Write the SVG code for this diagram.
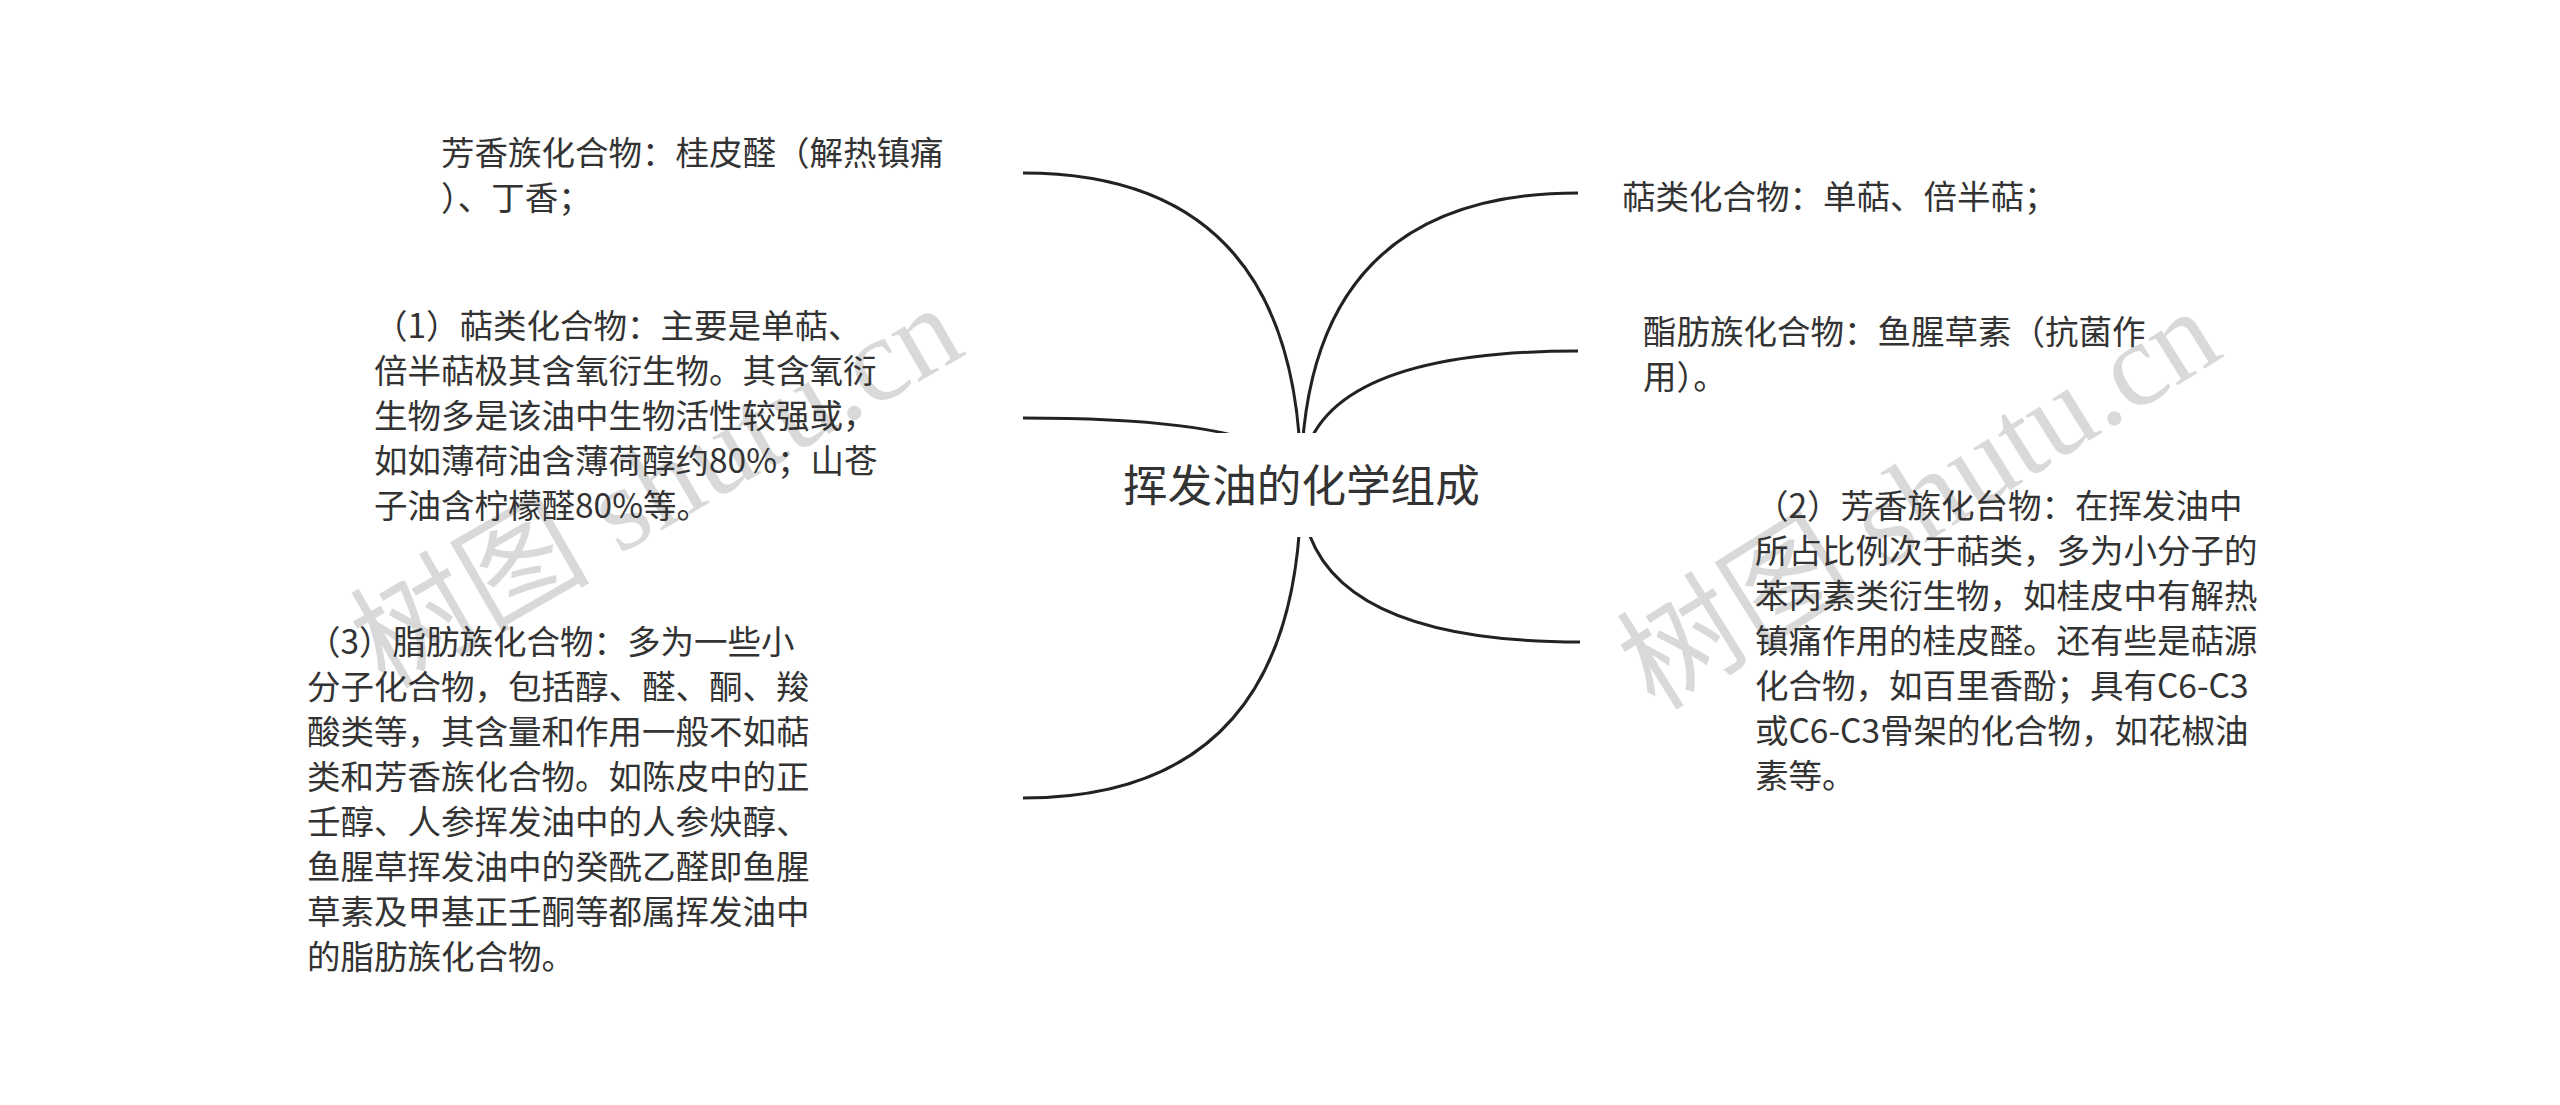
<svg xmlns="http://www.w3.org/2000/svg" width="2560" height="1105" viewBox="0 0 2560 1105">
<style>
.t{font-family:"Noto Sans CJK SC","Noto Sans",sans-serif;font-size:33.5px;fill:#333}
.c{font-family:"Noto Sans CJK SC","Noto Sans",sans-serif;font-size:44.6px;fill:#333}
.e{fill:none;stroke:#222;stroke-width:3;stroke-linecap:butt}
.wm{font-family:"Liberation Serif","Noto Sans CJK SC",serif;font-size:120px;fill:#000;fill-opacity:0.15}
</style>
<rect width="2560" height="1105" fill="#fff"/>
<g id="watermarks">
<text class="wm" transform="translate(385,690) rotate(-30)">树图 shutu.cn</text>
<text class="wm" transform="translate(1655,712) rotate(-32)">树图 shutu.cn</text>
</g>
<g id="connectors">
<path class="e" d="M1023 173 Q1301 173 1301 485"/>
<path class="e" d="M1023 418 Q1301 418 1301 485"/>
<path class="e" d="M1023 798 Q1301 798 1301 485"/>
<path class="e" d="M1578 193 Q1301 193 1301 485"/>
<path class="e" d="M1578 351 Q1301 351 1301 485"/>
<path class="e" d="M1580 642 Q1301 642 1301 485"/>
</g>
<g id="root">
<rect x="1100" y="433" width="402" height="104" fill="#fff"/>
<text class="c" x="1123" y="502">挥发油的化学组成</text>
</g>
<g id="n-left1">
<text class="t" x="441" y="165">芳香族化合物：桂皮醛（解热镇痛</text>
<text class="t" x="441" y="210">）、丁香；</text>
</g>
<g id="n-left2">
<text class="t" x="374" y="338">（1）萜类化合物：主要是单萜、</text>
<text class="t" x="374" y="383">倍半萜极其含氧衍生物。其含氧衍</text>
<text class="t" x="374" y="428">生物多是该油中生物活性较强或，</text>
<text class="t" x="374" y="473">如如薄荷油含薄荷醇约80%；山苍</text>
<text class="t" x="374" y="518">子油含柠檬醛80%等。</text>
</g>
<g id="n-left3">
<text class="t" x="307" y="653.5">（3）脂肪族化合物：多为一些小</text>
<text class="t" x="307" y="698.5">分子化合物，包括醇、醛、酮、羧</text>
<text class="t" x="307" y="743.5">酸类等，其含量和作用一般不如萜</text>
<text class="t" x="307" y="788.5">类和芳香族化合物。如陈皮中的正</text>
<text class="t" x="307" y="833.5">壬醇、人参挥发油中的人参炔醇、</text>
<text class="t" x="307" y="878.5">鱼腥草挥发油中的癸酰乙醛即鱼腥</text>
<text class="t" x="307" y="923.5">草素及甲基正壬酮等都属挥发油中</text>
<text class="t" x="307" y="968.5">的脂肪族化合物。</text>
</g>
<g id="n-right1">
<text class="t" x="1622" y="209">萜类化合物：单萜、倍半萜；</text>
</g>
<g id="n-right2">
<text class="t" x="1643" y="343.5">酯肪族化合物：鱼腥草素（抗菌作</text>
<text class="t" x="1643" y="388.5">用）。</text>
</g>
<g id="n-right3">
<text class="t" x="1755" y="518">（2）芳香族化台物：在挥发油中</text>
<text class="t" x="1755" y="563">所占比例次于萜类，多为小分子的</text>
<text class="t" x="1755" y="608">苯丙素类衍生物，如桂皮中有解热</text>
<text class="t" x="1755" y="653">镇痛作用的桂皮醛。还有些是萜源</text>
<text class="t" x="1755" y="698">化合物，如百里香酚；具有C6-C3</text>
<text class="t" x="1755" y="743">或C6-C3骨架的化合物，如花椒油</text>
<text class="t" x="1755" y="788">素等。</text>
</g>
</svg>
